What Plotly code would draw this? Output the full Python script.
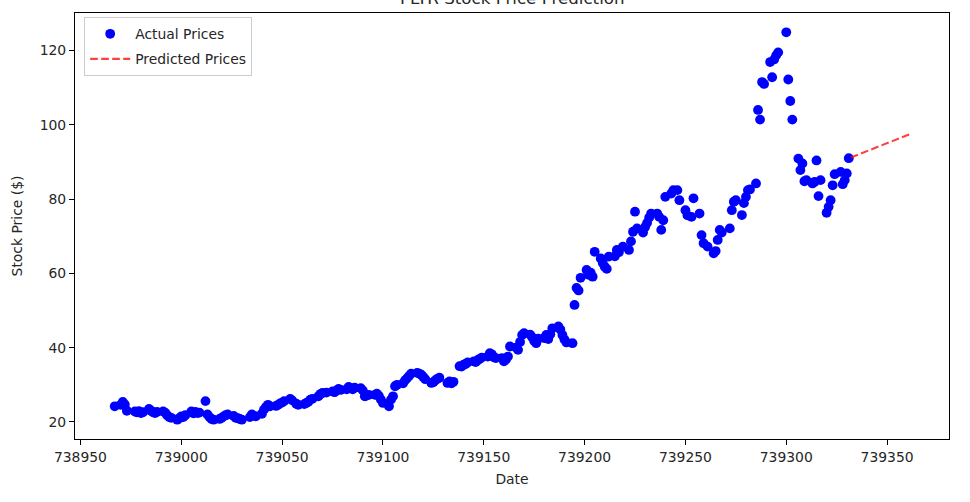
import plotly.graph_objects as go

# ---- data (ordinal dates on the x axis, close prices in $) ----
dates = [
    738967,
    738970, 738971, 738972, 738973,
    738977, 738978, 738979, 738980, 738981,
    738984, 738985, 738986, 738987, 738988,
    738991, 738992, 738993, 738994, 738995,
    738998, 738999, 739000, 739001, 739002,
    739005, 739006, 739007, 739008, 739009,
    739012, 739013, 739014, 739015, 739016,
    739019, 739020, 739021, 739022, 739023,
    739026, 739027, 739028, 739029, 739030,
    739034, 739035, 739036, 739037,
    739040, 739041, 739042, 739043, 739044,
    739047, 739048, 739049, 739050, 739051,
    739054, 739055, 739057, 739058,
    739061, 739062, 739063, 739064, 739065,
    739068, 739069, 739070, 739072,
    739075, 739076, 739077, 739078, 739079,
    739082, 739083, 739084, 739085, 739086,
    739089, 739090, 739091, 739092, 739093,
    739096, 739097, 739098, 739099, 739100,
    739103, 739104, 739105, 739106, 739107,
    739110, 739111, 739112, 739113, 739114,
    739117, 739118, 739119, 739120, 739121,
    739124, 739125, 739126, 739127, 739128,
    739132, 739133, 739134, 739135,
    739138, 739139, 739140, 739141, 739142,
    739145, 739146, 739147, 739148, 739149,
    739152, 739153, 739154, 739155, 739156,
    739159, 739160, 739161, 739162, 739163,
    739166, 739167, 739168, 739169, 739170,
    739173, 739174, 739175, 739176, 739177,
    739180, 739181, 739182, 739183, 739184,
    739187, 739188, 739189, 739190, 739191,
    739194, 739195, 739196, 739197, 739198,
    739201, 739202, 739203, 739204, 739205,
    739208, 739209, 739210, 739211, 739212,
    739215, 739216, 739217, 739219,
    739222, 739223, 739224, 739225, 739226,
    739229, 739230, 739231, 739232, 739233,
    739236, 739237, 739238, 739239, 739240,
    739243, 739244, 739246, 739247,
    739250, 739251, 739253, 739254,
    739257, 739258, 739259, 739261,
    739264, 739265, 739266, 739267, 739268,
    739272, 739273, 739274, 739275,
    739278, 739279, 739280, 739281, 739282,
    739285, 739286, 739287, 739288, 739289,
    739292, 739293, 739294, 739295, 739296,
    739300, 739301, 739302, 739303,
    739306, 739307, 739308, 739309, 739310,
    739313, 739314, 739315, 739316, 739317,
    739320, 739321, 739322, 739323, 739324,
    739327, 739328, 739329, 739330, 739331,
]

actual_prices = [
    24.2,
    24.6, 25.4, 24.7, 23.0,
    22.8, 22.6, 22.9, 22.4, 22.6,
    23.5, 23.0, 22.6, 22.4, 22.7,
    22.8, 22.5, 21.8, 21.3, 21.1,
    20.6, 21.0, 21.5, 21.3, 21.8,
    22.8, 22.3, 22.7, 22.4, 22.5,
    25.6, 22.0, 21.3, 20.8, 20.6,
    20.8, 21.1, 21.5, 21.8, 22.0,
    21.6, 21.1, 21.0, 20.8, 20.6,
    21.3, 22.0, 21.7, 21.5,
    22.2, 23.3, 24.0, 24.6, 24.2,
    24.3, 24.6, 25.0, 25.2, 25.6,
    26.2, 25.8, 24.9, 24.6,
    24.8, 25.1, 25.4, 26.0, 26.2,
    26.9, 27.5, 27.8, 27.9,
    28.2, 28.0, 28.5, 28.9, 28.6,
    28.8, 29.4, 29.1, 28.8, 29.2,
    29.1, 28.5, 26.9, 27.1, 27.3,
    27.3, 27.6, 27.0, 26.0, 25.1,
    24.2, 26.0, 26.9, 29.6, 30.0,
    30.4, 31.2, 31.8, 32.4, 33.0,
    33.2, 33.0, 32.7, 32.1, 31.5,
    30.5, 30.7, 31.2, 31.6, 31.9,
    30.5, 30.9, 30.4, 30.8,
    35.0, 34.9, 35.4, 35.6, 36.0,
    36.3, 36.1, 36.6, 37.0, 37.3,
    37.6, 38.5, 38.2, 37.4, 37.2,
    37.2, 36.3, 36.8, 37.6, 40.3,
    40.0, 39.4, 41.5, 43.4, 43.9,
    43.5, 42.8, 41.8, 41.2, 42.4,
    42.6, 43.4, 42.3, 43.6, 45.2,
    45.7, 44.9, 43.4, 42.2, 41.4,
    41.2, 51.5, 56.1, 55.4, 58.8,
    60.9, 59.6, 60.2, 59.1, 65.8,
    64.0, 62.8, 61.8, 61.2, 64.5,
    64.6, 66.3, 65.7, 67.2,
    66.3, 68.6, 71.2, 76.6, 72.1,
    71.0, 72.5, 73.6, 75.0, 76.1,
    76.1, 75.2, 71.7, 74.3, 80.6,
    81.5, 82.4, 82.4, 79.7,
    77.0, 75.6, 75.2, 80.2,
    76.1, 70.3, 68.1, 67.2,
    65.4, 66.0, 69.0, 71.7, 71.0,
    72.1, 77.0, 79.3, 79.7,
    75.7, 78.9, 80.6, 82.4, 82.6,
    84.2, 104.0, 101.4, 111.5, 111.0,
    116.9, 112.8, 117.6, 118.7, 119.5,
    124.9, 112.2, 106.4, 101.4,
    90.9, 87.8, 89.6, 84.8, 85.1,
    84.2, 84.6, 90.4, 80.8, 85.1,
    76.3, 77.9, 79.7, 83.7, 86.7,
    87.3, 84.0, 85.1, 86.9, 91.0,
]

pred_dates = [739332, 739361]
pred_prices = [91.2, 97.4]

x_ticks = [738950, 739000, 739050, 739100, 739150, 739200, 739250, 739300, 739350]
x_tick_labels = ["738950", "739000", "739050", "739100", "739150",
                 "739200", "739250", "739300", "739350"]
y_ticks = [20, 40, 60, 80, 100, 120]
y_tick_labels = ["20", "40", "60", "80", "100", "120"]

title_text = "PLTR Stock Price Prediction"
FONT = "DejaVu Sans"
TXT = "#262626"

fig = go.Figure()
fig.add_trace(go.Scatter(
    x=dates, y=actual_prices, mode="markers", name="Actual Prices",
    legendgroup="a",
    marker=dict(color="#0000ff", size=9.8, line=dict(width=0)),
))
fig.add_trace(go.Scatter(
    x=pred_dates, y=pred_prices, mode="lines", name="Predicted Prices",
    legendgroup="b",
    line=dict(color="rgba(255,0,0,0.75)", width=2.1, dash="7.7px,3.3px"),
))

axis_common = dict(
    showline=True, linecolor="black", linewidth=1.1, mirror=True,
    ticks="outside", ticklen=5, tickwidth=1.1, tickcolor="black",
    showgrid=False, zeroline=False,
    tickfont=dict(family=FONT, size=13.9, color=TXT),
    tickmode="array",
)

fig.update_layout(
    width=970, height=502,
    margin=dict(l=75, r=21, t=13, b=63),
    paper_bgcolor="white", plot_bgcolor="white",
    font=dict(family=FONT, size=13.9, color="black"),
    showlegend=True,
    legend=dict(
        x=0.0105, y=0.99, xanchor="left", yanchor="top",
        bgcolor="rgba(255,255,255,0.8)", bordercolor="#cccccc", borderwidth=1,
        font=dict(family=FONT, size=13.9, color=TXT),
        tracegroupgap=4, itemwidth=40,
    ),
    xaxis=dict(
        range=[738947.3, 739380.7], tickvals=x_ticks, ticktext=x_tick_labels,
        title=dict(text="Date", font=dict(family=FONT, size=13.9, color=TXT), standoff=10),
        **axis_common,
    ),
    yaxis=dict(
        range=[15.4, 130.1], tickvals=y_ticks, ticktext=y_tick_labels,
        title=dict(text="Stock Price ($)", font=dict(family=FONT, size=13.9, color=TXT), standoff=13),
        **axis_common,
    ),
    annotations=[dict(
        text=title_text, xref="paper", yref="paper", x=0.5, y=1.0,
        xanchor="center", yanchor="bottom", yshift=3, showarrow=False,
        font=dict(family=FONT, size=16.7, color=TXT),
    )],
)

fig.write_html(
    "out.html",
    config={"displayModeBar": False},
    post_script="document.body.style.margin='0';document.body.style.overflow='hidden';",
)
